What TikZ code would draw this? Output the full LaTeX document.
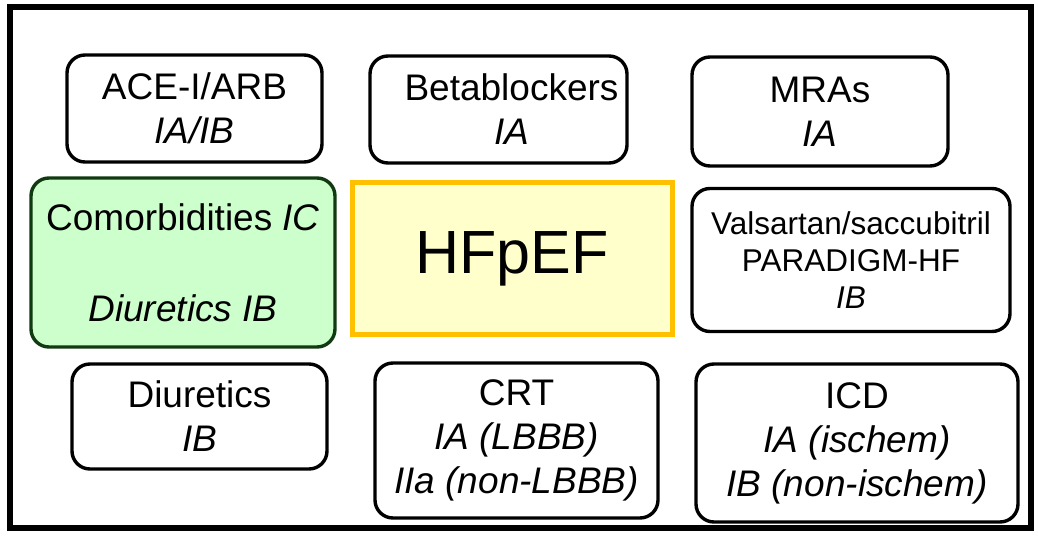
\documentclass[tikz,border=0pt]{standalone}
\usepackage{fontspec}
\setmainfont{Liberation Sans}
\definecolor{gfill}{RGB}{204,255,204}
\definecolor{gdraw}{RGB}{18,58,18}
\definecolor{yfill}{RGB}{255,255,204}
\definecolor{ydraw}{RGB}{255,192,0}
\begin{document}
\begin{tikzpicture}[x=1pt,y=-1pt,
  box/.style={draw=black, line width=3.4pt, rounded corners=18pt, align=center,
    inner sep=0pt, font=\fontsize{37}{44}\selectfont},
  greenbox/.style={box, draw=gdraw, fill=gfill},
  hfbox/.style={draw=ydraw, fill=yfill, line width=5pt, inner sep=0pt,
    font=\fontsize{61}{70}\selectfont},
  framebox/.style={draw=black, line width=6pt, inner sep=0pt}
]
\useasboundingbox (0,0) rectangle (1038,540);
\node[framebox, minimum width=1021pt, minimum height=521pt] (frame) at (520.5,267.5) {};

\node[box, minimum width=255pt, minimum height=107pt] (ace) at (194.5,108.5) {ACE-I/ARB\\\textit{IA/IB}};
\node[box, minimum width=257pt, minimum height=107pt] (beta) at (498.5,109.5) {\hspace*{26pt}Betablockers\\\hspace*{26pt}\textit{IA}};
\node[box, minimum width=256pt, minimum height=109pt] (mra) at (820,111.5) {MRAs\\\textit{IA}};

\node[greenbox, minimum width=304pt, minimum height=169pt] (comorb) at (183,262.5) {Comorbidities \textit{IC}\\[47pt]\textit{Diuretics IB}};
\node[hfbox, minimum width=320pt, minimum height=151pt] (hf) at (512,258.5) {HFpEF};
\node[box, minimum width=318pt, minimum height=143pt, font=\fontsize{31.5}{37}\selectfont] (valsa) at (851,260) {Valsartan/saccubitril\\PARADIGM-HF\\\textit{IB}};

\node[box, minimum width=255pt, minimum height=105pt] (diur) at (199.5,416.5) {Diuretics\\\textit{IB}};
\node[box, minimum width=283pt, minimum height=155pt] (crt) at (516.5,440.5) {CRT\\\textit{IA (LBBB)}\\\textit{IIa (non-LBBB)}};
\node[box, minimum width=322pt, minimum height=158pt] (icd) at (857,443) {ICD\\\textit{IA (ischem)}\\\textit{IB (non-ischem)}};
\end{tikzpicture}
\end{document}
